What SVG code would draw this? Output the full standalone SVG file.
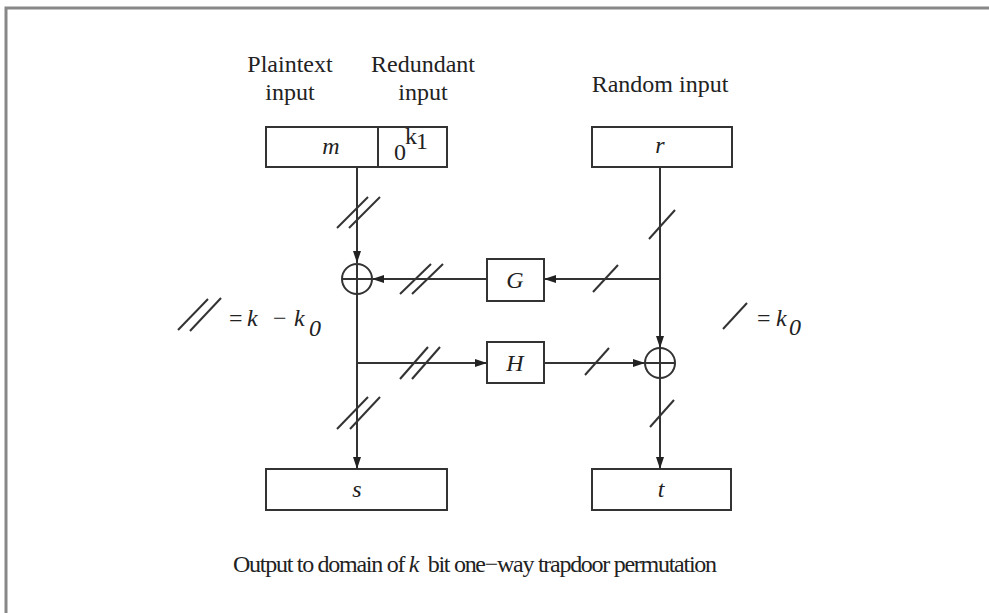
<svg xmlns="http://www.w3.org/2000/svg" width="989" height="613" viewBox="0 0 989 613">
<style>
.t{font-family:"Liberation Serif","Times New Roman",serif;fill:#222;font-size:24px}
.i{font-style:italic}
.box{fill:#fff;stroke:#333;stroke-width:2}
.ln{stroke:#333;stroke-width:2;fill:none}
.sl{stroke:#333;stroke-width:2;fill:none}
</style>
<defs>
<marker id="ah" viewBox="0 0 12 8" refX="12" refY="4" markerWidth="12" markerHeight="9" markerUnits="userSpaceOnUse" orient="auto">
<path d="M0,0 L12,4 L0,8 z" fill="#222"/>
</marker>
</defs>
<rect x="0" y="0" width="989" height="613" fill="#fff"/>
<rect x="6" y="8" width="1000" height="700" fill="none" stroke="#888" stroke-width="3"/>

<g id="labels">
<text class="t" x="290" y="72" text-anchor="middle">Plaintext</text>
<text class="t" x="290" y="100" text-anchor="middle">input</text>
<text class="t" x="423" y="72" text-anchor="middle">Redundant</text>
<text class="t" x="423" y="100" text-anchor="middle">input</text>
<text class="t" x="660" y="92" text-anchor="middle">Random input</text>
</g>

<g id="connectors">
<line class="ln" x1="357" y1="167" x2="357" y2="263" marker-end="url(#ah)"/>
<line class="ln" x1="357" y1="293" x2="357" y2="469" marker-end="url(#ah)"/>
<line class="ln" x1="660" y1="167" x2="660" y2="348" marker-end="url(#ah)"/>
<line class="ln" x1="660" y1="378" x2="660" y2="469" marker-end="url(#ah)"/>
<line class="ln" x1="660" y1="279" x2="544" y2="279" marker-end="url(#ah)"/>
<line class="ln" x1="487" y1="279" x2="372" y2="279" marker-end="url(#ah)"/>
<line class="ln" x1="357" y1="363" x2="487" y2="363" marker-end="url(#ah)"/>
<line class="ln" x1="544" y1="363" x2="645" y2="363" marker-end="url(#ah)"/>
<line class="sl" x1="337" y1="228" x2="368" y2="197"/>
<line class="sl" x1="349" y1="228" x2="380" y2="197"/>
<line class="sl" x1="400" y1="294" x2="431" y2="264"/>
<line class="sl" x1="412" y1="294" x2="443" y2="264"/>
<line class="sl" x1="593" y1="292" x2="618" y2="265"/>
<line class="sl" x1="649" y1="239" x2="675" y2="210"/>
<line class="sl" x1="400" y1="379" x2="428" y2="347"/>
<line class="sl" x1="412" y1="379" x2="440" y2="347"/>
<line class="sl" x1="585" y1="375" x2="609" y2="348"/>
<line class="sl" x1="337" y1="429" x2="368" y2="397"/>
<line class="sl" x1="350" y1="429" x2="380" y2="397"/>
<line class="sl" x1="650" y1="427" x2="674" y2="400"/>
</g>

<g id="node-m">
<rect class="box" x="266" y="127" width="181" height="40"/>
<line class="ln" x1="378" y1="127" x2="378" y2="167"/>
<text class="t i" x="331" y="154" text-anchor="middle" font-size="22">m</text>
<text class="t" x="394" y="160" font-size="19">0</text>
<text class="t" x="405" y="144" font-size="15">k</text>
<text class="t" x="416" y="149" font-size="10">1</text>
</g>

<g id="node-r">
<rect class="box" x="592" y="127" width="140" height="40"/>
<text class="t i" x="660" y="153" text-anchor="middle" font-size="22">r</text>
</g>

<g id="node-xor1">
<circle class="ln" cx="357" cy="279" r="15" fill="#fff"/>
<line class="ln" x1="342" y1="279" x2="372" y2="279"/>
<line class="ln" x1="357" y1="264" x2="357" y2="294"/>
</g>

<g id="node-G">
<rect class="box" x="487" y="259" width="57" height="42"/>
<text class="t i" x="515" y="288" text-anchor="middle">G</text>
</g>

<g id="node-H">
<rect class="box" x="487" y="342" width="57" height="41"/>
<text class="t i" x="515" y="371" text-anchor="middle">H</text>
</g>

<g id="node-xor2">
<circle class="ln" cx="660" cy="363" r="15" fill="#fff"/>
<line class="ln" x1="645" y1="363" x2="675" y2="363"/>
<line class="ln" x1="660" y1="348" x2="660" y2="378"/>
</g>

<g id="node-s">
<rect class="box" x="266" y="469" width="181" height="41"/>
<text class="t i" x="357" y="497" text-anchor="middle" font-size="22">s</text>
</g>

<g id="node-t">
<rect class="box" x="592" y="469" width="139" height="41"/>
<text class="t i" x="661" y="497" text-anchor="middle" font-size="22">t</text>
</g>

<g id="legend-left">
<line class="sl" x1="178" y1="330" x2="208" y2="299"/>
<line class="sl" x1="190" y1="331" x2="221" y2="298"/>
<text class="t" x="229" y="326" font-size="22">=</text>
<text class="t i" x="247" y="326" font-size="22">k</text>
<text class="t" x="273" y="326" font-size="22">−</text>
<text class="t i" x="294" y="326" font-size="22">k</text>
<text class="t i" x="309" y="336" font-size="20">0</text>
</g>

<g id="legend-right">
<line class="sl" x1="723" y1="329" x2="747" y2="303"/>
<text class="t" x="757" y="326" font-size="22">=</text>
<text class="t i" x="776" y="326" font-size="22">k</text>
<text class="t i" x="789" y="335" font-size="20">0</text>
</g>

<g id="caption">
<text class="t" x="233" y="572" font-size="20.5" textLength="484" lengthAdjust="spacing" xml:space="preserve">Output to domain of <tspan font-style="italic">k</tspan>  bit one−way trapdoor permutation</text>
</g>
</svg>
